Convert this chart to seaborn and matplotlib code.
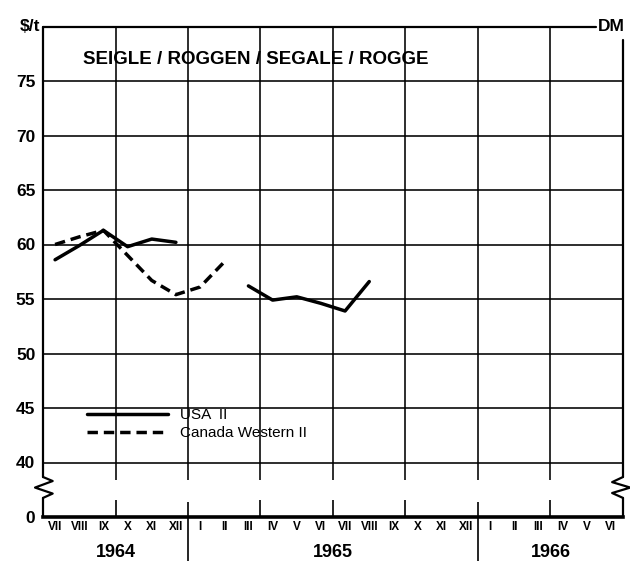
import numpy as np
import pandas as pd
import matplotlib
matplotlib.use('Agg')
import matplotlib.pyplot as plt
import seaborn as sns

# données ($/t), index = mois depuis VII 1964
mois = ['VII', 'VIII', 'IX', 'X', 'XI', 'XII', 'I', 'II', 'III', 'IV', 'V', 'VI',
        'VII', 'VIII', 'IX', 'X', 'XI', 'XII', 'I', 'II', 'III', 'IV', 'V', 'VI']
annees = ['1964', '1965', '1966']

usa_mois_1 = [0, 1, 2, 3, 4, 5]
usa_val_1 = [58.6, 59.9, 61.3, 59.8, 60.5, 60.2]
usa_mois_2 = [8, 9, 10, 11, 12, 13]
usa_val_2 = [56.2, 54.9, 55.2, 54.6, 53.9, 56.6]
can_mois = [0, 1, 2, 3, 4, 5, 6, 7]
can_val = [60.0, 60.7, 61.3, 59.0, 56.7, 55.4, 56.1, 58.4]

series = ['USA  II', 'Canada Western II']

rows = []
for m, v in zip(usa_mois_1, usa_val_1):
    rows.append((m + 0.5, v, series[0], 'a'))
for m, v in zip(usa_mois_2, usa_val_2):
    rows.append((m + 0.5, v, series[0], 'b'))
for m, v in zip(can_mois, can_val):
    rows.append((m + 0.5, v, series[1], 'c'))
df = pd.DataFrame(rows, columns=['x', 'prix', 'serie', 'seg'])

sns.set_style('white')
plt.rcParams['font.family'] = ['Liberation Sans', 'DejaVu Sans']
plt.rcParams['text.color'] = 'black'
plt.rcParams['xtick.color'] = 'black'
plt.rcParams['ytick.color'] = 'black'

fig = plt.figure(figsize=(6.3, 5.64), dpi=100)
ax = fig.add_axes([43 / 630, 47 / 564, 580 / 630, 490.5 / 564])

Y0, YTOP = 35, 80
ax.set_xlim(0, 24)
ax.set_ylim(Y0, YTOP)

LW_GRID = 1.15
# quadrillage
for y in range(40, 80, 5):
    ax.axhline(y, color='black', lw=LW_GRID, zorder=1)
ax.vlines(range(3, 24, 3), 38.4, YTOP, color='black', lw=LW_GRID, zorder=1)

sns.lineplot(data=df, x='x', y='prix', style='serie', units='seg', estimator=None,
             color='black', linewidth=2.5, ax=ax, zorder=3,
             dashes={series[0]: '', series[1]: (3, 1.7)})

# légende
handles, labels = ax.get_legend_handles_labels()
leg = ax.legend(handles, labels, loc='upper left', bbox_to_anchor=(0.0759, 0.222),
                frameon=False, fontsize=11, handlelength=5.3, handletextpad=0.8,
                labelspacing=0.25, borderpad=0, borderaxespad=0)
for h in leg.get_lines():
    h.set_linewidth(2.5)

# cadre avec coupures
for s in ['left', 'right', 'top']:
    ax.spines[s].set_visible(False)
ax.spines['bottom'].set_linewidth(2.6)
ax.spines['bottom'].set_color('black')
kw = dict(color='black', lw=1.6, clip_on=False, zorder=4)
ax.plot([0, 0], [YTOP, 38.67], **kw)
ax.plot([0, 0.4, -0.33, 0.4, 0], [38.67, 38.3, 37.7, 37.15, 36.75], **kw)
ax.plot([0, 0], [36.75, Y0], **kw)
ax.plot([0, 22.9], [YTOP, YTOP], **kw)
ax.plot([24, 24], [78.8, 38.67], **kw)
ax.plot([24, 23.55, 24.3, 23.55, 24], [38.67, 38.2, 37.7, 37.2, 36.75], **kw)
ax.plot([24, 24], [36.75, Y0], **kw)

# axe des x
ax.set_xticks(range(1, 24))
ax.tick_params(axis='x', which='major', direction='in', length=7.2, width=1.2,
               labelbottom=False)
ax.set_xticks(np.arange(24) + 0.5, labels=mois, minor=True)
ax.tick_params(axis='x', which='minor', length=0, pad=3, labelsize=8.5)
for t in ax.get_xticklabels(minor=True):
    t.set_fontweight('bold')
ax.vlines([3, 9, 12, 15, 21], Y0, 36.56, color='black', lw=1.2, zorder=2)
ax.vlines([6, 18], 31.0, 36.4, color='black', lw=1.2, clip_on=False, zorder=2)
for i, a in enumerate(annees):
    ax.text(3 + 9 * i if i < 2 else 21, 31.7, a, ha='center', va='center',
            fontsize=13, fontweight='bold')

# axe des y
ax.set_yticks(range(35, 80, 5), labels=['0'] + [str(v) for v in range(40, 80, 5)])
ax.tick_params(axis='y', length=0, pad=5.5, labelsize=12.5)
for t in ax.get_yticklabels():
    t.set_fontweight('bold')
ax.set_xlabel('')
ax.set_ylabel('')

ax.text(-0.12, YTOP, '$/t', ha='right', va='center', fontsize=12.5, fontweight='bold')
ax.text(22.97, YTOP, 'DM', ha='left', va='center', fontsize=12.5, fontweight='bold')
ax.text(1.65, 77.0, 'SEIGLE / ROGGEN / SEGALE / ROGGE', ha='left', va='center',
        fontsize=13.5, fontweight='bold')

fig.savefig('out.png', dpi=100)
